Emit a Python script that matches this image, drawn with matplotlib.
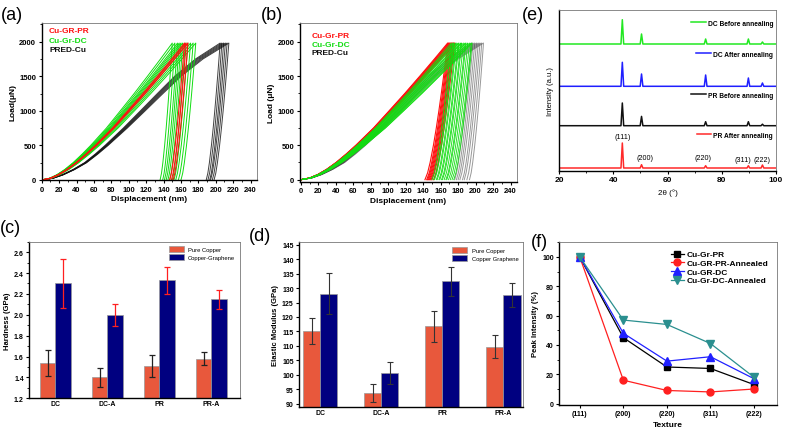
import numpy as np
import matplotlib
matplotlib.use("Agg")
import matplotlib.pyplot as plt
from matplotlib.ticker import MultipleLocator, FormatStrFormatter
from matplotlib.lines import Line2D

plt.rcParams['font.family'] = ['Liberation Sans', 'DejaVu Sans']

# ---------------- nanoindentation (a), (b) ----------------
# load levels of the loading branch (uN) and depth as fraction of max depth
load_levels = [0, 25, 75, 150, 250, 375, 500, 750, 1000, 1250, 1500, 1750, 1980]
shape_gr = [0, 0.06, 0.115, 0.175, 0.24, 0.31, 0.375, 0.495, 0.602, 0.708, 0.81, 0.91, 1.0]
shape_cu = [0, 0.06, 0.115, 0.175, 0.24, 0.30, 0.355, 0.457, 0.553, 0.648, 0.745, 0.862, 1.0]
# unloading branch: load levels and remaining elastic part (fraction)
unload_levels = [1980, 1750, 1500, 1250, 1000, 750, 500, 250, 100, 0]
unload_frac = [1.0, 0.916, 0.82, 0.72, 0.614, 0.50, 0.374, 0.228, 0.118, 0.0]

# (a) max / residual depth of each indent (nm)
a_pr_hmax = [164, 166, 168]
a_pr_hres = [147, 149, 151]
a_dc_hmax = [150, 153, 156, 158, 160, 162, 165, 168, 171, 174, 177]
a_dc_hres = [136, 139, 141, 143, 145, 147, 150, 152, 154, 157, 160]
a_cu_hmax = [205, 207, 209, 211, 213, 215]
a_cu_hres = [189, 191, 193, 194, 196, 198]

# (b)
b_pr_hmax = [168, 169, 170, 171, 172, 173, 174, 175, 176]
b_pr_hres = [142, 144, 145, 146, 147, 148, 149, 150, 152]
b_dc_hmax = [172, 174, 175, 177, 178, 180, 181, 183, 184, 186, 188, 189, 191, 193, 195, 196]
b_dc_hres = [150, 152, 153, 155, 156, 158, 159, 161, 162, 164, 166, 167, 169, 171, 173, 175]
b_cu_hmax = [195, 197, 199, 201, 203, 205, 207, 209]
b_cu_hres = [176, 178, 180, 182, 185, 187, 190, 193]

# ---------------- hardness (c), modulus (d) ----------------
samples = ['DC', 'DC-A', 'PR', 'PR-A']
hard_cu = [1.535, 1.40, 1.505, 1.58]
hard_cu_err = [0.125, 0.09, 0.105, 0.06]
hard_gr = [2.30, 2.00, 2.33, 2.15]
hard_gr_err = [0.235, 0.105, 0.13, 0.09]

mod_cu = [115.2, 93.8, 116.8, 109.8]
mod_cu_err = [4.5, 3.2, 5.4, 4.0]
mod_gr = [128.0, 100.7, 132.3, 127.5]
mod_gr_err = [7.1, 3.7, 4.9, 4.2]

# ---------------- XRD (e) ----------------
peak_pos = [43.3, 50.4, 74.1, 89.9, 95.1]
peak_names = ['(111)', '(200)', '(220)', '(311)', '(222)']
xrd_labels = ['DC Before annealing', 'DC After annealing',
              'PR Before annealing', 'PR After annealing']
xrd_colors = ['#22e822', '#1f1fff', '#111111', '#ff2a2a']
xrd_offsets = [126.7, 84.4, 45.0, 2.7]
xrd_heights = [
    [24.3, 10.0, 5.0, 5.0, 2.0],
    [24.0, 12.3, 11.3, 8.3, 3.3],
    [22.7, 9.3, 4.0, 4.0, 1.5],
    [25.0, 3.3, 2.3, 2.3, 3.0],
]
xrd_legend_y = [0.919, 0.726, 0.471, 0.222]

# ---------------- peak intensity (f) ----------------
textures = ['(111)', '(200)', '(220)', '(311)', '(222)']
pi_pr = [100, 45, 25, 24, 13]
pi_pr_ann = [100, 16, 9, 8, 10]
pi_dc = [100, 48, 29, 32, 17]
pi_dc_ann = [100, 57, 54, 41, 18]

W, H = 785, 431
fig = plt.figure(figsize=(W / 100, H / 100), dpi=100)


def px_axes(left, top, right, bottom):
    return fig.add_axes([left / W, 1 - bottom / H, (right - left) / W, (bottom - top) / H])


def style(ax, fs=5.5, bold=True):
    for s in ['top', 'right']:
        ax.spines[s].set_color('#777777')
        ax.spines[s].set_linewidth(0.6)
    for s in ['left', 'bottom']:
        ax.spines[s].set_color('black')
        ax.spines[s].set_linewidth(1.0)
    ax.tick_params(which='major', direction='out', length=2.5, width=0.8,
                   labelsize=fs, pad=1.5, top=False, right=False)
    ax.tick_params(which='minor', direction='out', length=1.5, width=0.6,
                   top=False, right=False)
    if bold:
        for lab in ax.get_xticklabels() + ax.get_yticklabels():
            lab.set_fontweight('bold')


def draw_indents(ax, hmax, hres, shape, color, lw=0.7, alpha=1.0):
    for hm, hr in zip(hmax, hres):
        xl = np.array(shape) * hm
        xu = hr + np.array(unload_frac) * (hm - hr)
        x = np.concatenate([xl, xu])
        y = np.concatenate([load_levels, unload_levels])
        ax.plot(x, y, color=color, lw=lw, alpha=alpha)


# (a)
ax_a = px_axes(41.7, 24, 256.7, 181)
draw_indents(ax_a, a_cu_hmax, a_cu_hres, shape_cu, '#111111', alpha=0.8)
draw_indents(ax_a, a_dc_hmax, a_dc_hres, shape_gr, '#11dd11')
draw_indents(ax_a, a_pr_hmax, a_pr_hres, shape_gr, '#ff1010', lw=0.8)
ax_a.set_xlim(0, 247)
ax_a.set_ylim(0, 2270)
ax_a.xaxis.set_major_locator(MultipleLocator(20))
ax_a.xaxis.set_minor_locator(MultipleLocator(10))
ax_a.yaxis.set_major_locator(MultipleLocator(500))
ax_a.yaxis.set_minor_locator(MultipleLocator(250))
style(ax_a)
ax_a.set_xlabel('Displacement (nm)', fontsize=6, fontweight='bold', labelpad=2)
ax_a.set_ylabel('Load(\u03bcN)', fontsize=6, fontweight='bold', labelpad=2)
for t, c, yy in zip(['Cu-GR-PR', 'Cu-Gr-DC', 'PRED-Cu'],
                    ['#ff1010', '#11dd11', '#111111'], [0.95, 0.89, 0.83]):
    ax_a.text(0.034, yy, t, color=c, fontsize=6, fontweight='bold',
              transform=ax_a.transAxes, va='center')

# (b)
ax_b = px_axes(300, 24, 516.7, 182.7)
draw_indents(ax_b, b_cu_hmax, b_cu_hres, shape_cu, '#444444', alpha=0.55)
draw_indents(ax_b, b_pr_hmax, b_pr_hres, shape_gr, '#ff1010', lw=0.8)
draw_indents(ax_b, b_dc_hmax, b_dc_hres, shape_gr, '#11dd11', lw=0.6)
ax_b.set_xlim(-1, 247)
ax_b.set_ylim(-29, 2270)
ax_b.xaxis.set_major_locator(MultipleLocator(20))
ax_b.xaxis.set_minor_locator(MultipleLocator(10))
ax_b.yaxis.set_major_locator(MultipleLocator(500))
ax_b.yaxis.set_minor_locator(MultipleLocator(250))
style(ax_b)
ax_b.set_xlabel('Displacement (nm)', fontsize=6, fontweight='bold', labelpad=2)
ax_b.set_ylabel('Load (\u03bcN)', fontsize=6, fontweight='bold', labelpad=2)
for t, c, yy in zip(['Cu-Gr-PR', 'Cu-Gr-DC', 'PRED-Cu'],
                    ['#ff1010', '#11dd11', '#111111'], [0.924, 0.867, 0.816]):
    ax_b.text(0.054, yy, t, color=c, fontsize=6, fontweight='bold',
              transform=ax_b.transAxes, va='center')

# (e)
ax_e = px_axes(559.3, 11, 775.7, 171.7)
for lab, col, off, hts, ly in zip(xrd_labels, xrd_colors, xrd_offsets,
                                   xrd_heights, xrd_legend_y):
    xs, ys = [20], [off]
    for p, h in zip(peak_pos, hts):
        xs += [p - 0.5, p, p + 0.5]
        ys += [off, off + h, off]
    xs.append(100)
    ys.append(off)
    ax_e.plot(xs, ys, color=col, lw=1.1)
    leg = ax_e.legend(handles=[Line2D([], [], color=col, lw=1.1)], labels=[lab],
                      loc='center right', bbox_to_anchor=(1.0, ly), frameon=False,
                      borderaxespad=0, handlelength=2.2, handletextpad=0.3,
                      prop={'size': 4.8, 'weight': 'bold'})
    ax_e.add_artist(leg)
ax_e.legend_ = None
ann_y = [34.4, 12.7, 12.7, 10.7, 10.7]
ann_x = [43.5, 51.7, 73.2, 88.0, 94.8]
for name, xx, yy in zip(peak_names, ann_x, ann_y):
    ax_e.text(xx, yy, name, fontsize=5.2, ha='center', va='center')
ax_e.set_xlim(20, 100)
ax_e.set_ylim(0, 160.7)
ax_e.set_yticks([])
ax_e.xaxis.set_major_locator(MultipleLocator(20))
ax_e.xaxis.set_minor_locator(MultipleLocator(10))
style(ax_e, fs=6)
ax_e.set_xlabel('2\u03b8 (\u00b0)', fontsize=5.8, labelpad=4)
ax_e.set_ylabel('Intensity (a.u.)', fontsize=5.5, labelpad=4)

# (c)
ax_c = px_axes(29.3, 242.7, 240, 399.3)
xc = np.arange(len(samples))
bw = 0.3
ax_c.bar(xc - bw / 2, hard_cu, bw, color='#e8583c', edgecolor='#999999', lw=0.5,
         label='Pure Copper')
ax_c.bar(xc + bw / 2, hard_gr, bw, color='#000080', edgecolor='#999999', lw=0.5,
         label='Copper-Graphene')
ax_c.errorbar(xc - bw / 2, hard_cu, yerr=hard_cu_err, fmt='none', ecolor='#222222',
              elinewidth=0.9, capsize=2.5, capthick=0.9)
ax_c.errorbar(xc + bw / 2, hard_gr, yerr=hard_gr_err, fmt='none', ecolor='#ff2020',
              elinewidth=0.9, capsize=2.5, capthick=0.9)
ax_c.set_xlim(-0.5, 3.55)
ax_c.set_ylim(1.2, 2.7)
ax_c.set_xticks(xc)
ax_c.set_xticklabels(samples)
ax_c.yaxis.set_major_locator(MultipleLocator(0.2))
ax_c.yaxis.set_minor_locator(MultipleLocator(0.1))
ax_c.yaxis.set_major_formatter(FormatStrFormatter('%.1f'))
style(ax_c, fs=5)
ax_c.tick_params(axis='x', length=0)
ax_c.set_ylabel('Hardness (GPa)', fontsize=5.5, fontweight='bold', labelpad=2)
ax_c.legend(loc='upper right', fontsize=4.2, frameon=False, handlelength=2.5,
            handleheight=1.2, borderaxespad=0.4, labelspacing=0.3)

# (d)
ax_d = px_axes(299.3, 243.3, 523, 408.3)
bw2 = 0.28
ax_d.bar(xc - bw2 / 2, mod_cu, bw2, color='#e8583c', edgecolor='#999999', lw=0.5,
         label='Pure Copper')
ax_d.bar(xc + bw2 / 2, mod_gr, bw2, color='#000080', edgecolor='#999999', lw=0.5,
         label='Copper Graphene')
ax_d.errorbar(xc - bw2 / 2, mod_cu, yerr=mod_cu_err, fmt='none', ecolor='#333333',
              elinewidth=0.8, capsize=2.5, capthick=0.8)
ax_d.errorbar(xc + bw2 / 2, mod_gr, yerr=mod_gr_err, fmt='none', ecolor='#333333',
              elinewidth=0.8, capsize=2.5, capthick=0.8)
ax_d.set_xlim(-0.34, 3.32)
ax_d.set_ylim(88.8, 145.8)
ax_d.set_xticks(xc)
ax_d.set_xticklabels(samples)
ax_d.yaxis.set_major_locator(MultipleLocator(5))
style(ax_d, fs=5)
ax_d.tick_params(axis='x', length=0)
ax_d.set_ylabel('Elastic Modulus (GPa)', fontsize=5.5, fontweight='bold', labelpad=2)
ax_d.legend(loc='upper right', fontsize=4.2, frameon=False, handlelength=2.5,
            handleheight=1.2, borderaxespad=0.4, labelspacing=0.3)

# (f)
ax_f = px_axes(559.3, 243.3, 776.7, 405.7)
xf = np.arange(len(textures))
ax_f.plot(xf, pi_pr, color='black', marker='s', ms=5, lw=0.9, label='Cu-Gr-PR')
ax_f.plot(xf, pi_pr_ann, color='#ff2020', marker='o', ms=5, lw=0.9, label='Cu-GR-PR-Annealed')
ax_f.plot(xf, pi_dc, color='#2020ff', marker='^', ms=5.5, lw=0.9, label='Cu-GR-DC')
ax_f.plot(xf, pi_dc_ann, color='#2a8f8f', marker='v', ms=5.5, lw=0.9, label='Cu-Gr-DC-Annealed')
ax_f.set_xlim(-0.47, 4.52)
ax_f.set_ylim(-0.7, 110)
ax_f.set_xticks(xf)
ax_f.set_xticklabels(textures)
ax_f.yaxis.set_major_locator(MultipleLocator(20))
ax_f.yaxis.set_minor_locator(MultipleLocator(10))
style(ax_f, fs=5)
ax_f.set_xlabel('Texture', fontsize=6, fontweight='bold', labelpad=3)
ax_f.set_ylabel('Peak Intensity (%)', fontsize=5.5, fontweight='bold', labelpad=2)
ax_f.legend(loc='upper right', frameon=False, prop={'size': 6, 'weight': 'bold'},
            handlelength=1.6, handletextpad=0.3, labelspacing=0.1, borderaxespad=0.6)

# panel letters
for lab, x, y in [('(a)', 1, 15), ('(b)', 261, 15), ('(e)', 522, 15),
                  ('(c)', 0, 229), ('(d)', 249, 237), ('(f)', 531, 243)]:
    fig.text(x / W, 1 - y / H, lab, fontsize=13, va='center', ha='left')

fig.savefig('out.png', dpi=100)
